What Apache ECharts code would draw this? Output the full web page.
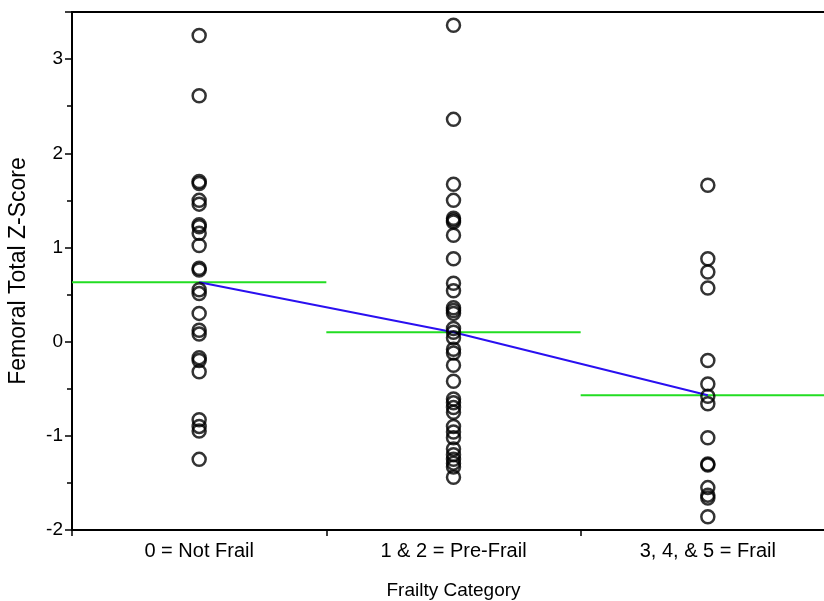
<!DOCTYPE html>
<html>
<head>
<meta charset="utf-8">
<script src="https://cdn.jsdelivr.net/npm/echarts@6/dist/echarts.min.js"></script>
<style>html,body{margin:0;padding:0;background:#fff;overflow:hidden}#c{width:835px;height:601px}</style>
</head>
<body>
<div id="c"></div>
<script>
const categories = ['0 = Not Frail', '1 & 2 = Pre-Frail', '3, 4, & 5 = Frail'];
const notFrail = [3.25, 2.61, 1.70, 1.68, 1.50, 1.46, 1.24, 1.22, 1.15, 1.02, 0.78, 0.76, 0.55, 0.51, 0.30, 0.12, 0.08, -0.17, -0.20, -0.32, -0.83, -0.90, -0.95, -1.25];
const preFrail = [3.36, 2.36, 1.67, 1.50, 1.31, 1.29, 1.27, 1.13, 0.88, 0.62, 0.54, 0.36, 0.33, 0.30, 0.14, 0.10, 0.04, -0.08, -0.12, -0.25, -0.42, -0.61, -0.65, -0.70, -0.75, -0.90, -0.96, -1.02, -1.14, -1.20, -1.25, -1.29, -1.33, -1.44];
const frail = [1.66, 0.88, 0.74, 0.57, -0.20, -0.45, -0.58, -0.66, -1.02, -1.30, -1.31, -1.55, -1.63, -1.66, -1.86];
const groupMeans = [0.63, 0.10, -0.57];
const yTicks = [-2, -1, 0, 1, 2, 3];

const groups = [notFrail, preFrail, frail];
const font = "'Liberation Sans', Arial, Helvetica, sans-serif";

const scatterData = [];
groups.forEach((g, i) => g.forEach(v => scatterData.push([i, v])));

const meanSeries = groupMeans.map((m, i) => ({
  type: 'line', xAxisIndex: 1, yAxisIndex: 0,
  data: [[i - 0.5, m], [i + 0.5, m]],
  symbol: 'none', silent: true,
  lineStyle: { color: '#22dd22', width: 2 }, z: 3
}));

const chart = echarts.init(document.getElementById('c'), null, { renderer: 'canvas' });
chart.setOption({
  animation: false,
  backgroundColor: '#fff',
  grid: { left: 72, right: 0, top: 12, bottom: 71, outerBoundsMode: 'none', containLabel: false,
    show: true, borderColor: '#000', borderWidth: 2, backgroundColor: 'transparent' },
  xAxis: [{
    type: 'category', data: categories, boundaryGap: true,
    name: 'Frailty Category', nameLocation: 'middle', nameGap: 51,
    nameTextStyle: { fontFamily: font, fontSize: 19, color: '#000' },
    axisLine: { onZero: false, lineStyle: { color: '#000', width: 2 } },
    axisTick: { show: true, length: 6, alignWithLabel: false, lineStyle: { color: '#000', width: 1.5 } },
    axisLabel: { fontFamily: font, fontSize: 20, color: '#000', margin: 11 },
    splitLine: { show: false }
  }, {
    type: 'value', min: -0.5, max: 2.5, show: false,
    axisLine: { onZero: false }
  }],
  yAxis: [{
    type: 'value', min: yTicks[0], max: 3.5, interval: 1,
    name: 'Femoral Total Z-Score', nameLocation: 'middle', nameGap: 42,
    nameTextStyle: { fontFamily: font, fontSize: 23, color: '#000' },
    axisLine: { show: true, onZero: false, lineStyle: { color: '#000', width: 2 } },
    axisTick: { show: true, length: 7, lineStyle: { color: '#000', width: 1.5 } },
    axisLabel: { fontFamily: font, fontSize: 19, color: '#000', margin: 9,
      formatter: v => (yTicks.indexOf(v) >= 0 ? String(v) : '') },
    splitLine: { show: false }
  }, {
    type: 'value', min: yTicks[0], max: 3.5, interval: 0.5, position: 'left',
    axisLine: { show: false, onZero: false },
    axisTick: { show: true, length: 5, lineStyle: { color: '#000', width: 1.5 } },
    axisLabel: { show: false },
    splitLine: { show: false }
  }],
  series: [
    ...meanSeries,
    {
      type: 'line', xAxisIndex: 1, yAxisIndex: 0,
      data: groupMeans.map((m, i) => [i, m]),
      symbol: 'none', silent: true,
      lineStyle: { color: '#2a10f0', width: 2 }, z: 4
    },
    {
      type: 'scatter', xAxisIndex: 0, yAxisIndex: 0,
      data: scatterData, symbol: 'circle', symbolSize: 13,
      itemStyle: { color: 'rgba(255,255,255,0)', borderColor: '#000', borderWidth: 2.5 },
      z: 5
    }
  ]
});
</script>
</body>
</html>
